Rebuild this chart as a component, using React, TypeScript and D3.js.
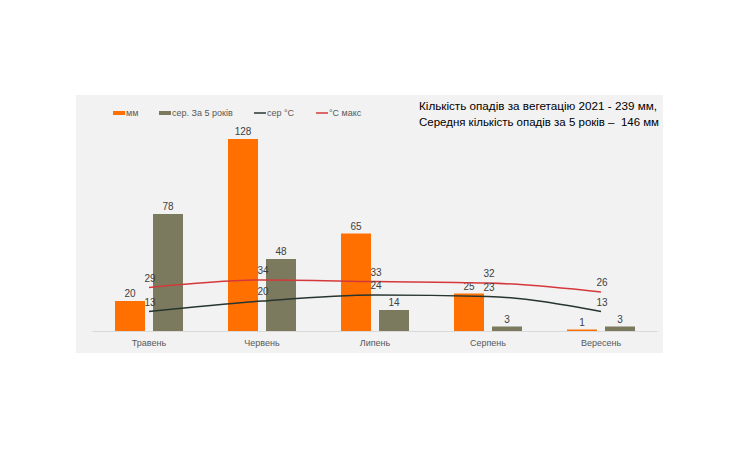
import React from "react";
import * as d3 from "d3";

const categories = ["Травень", "Червень", "Липень", "Серпень", "Вересень"];
const rain2021 = [20, 128, 65, 25, 1];
const rainAvg5 = [78, 48, 14, 3, 3];
const tempAvg = [13, 20, 24, 23, 13];
const tempMax = [29, 34, 33, 32, 26];
const legendLabels = ["мм", "сер. За 5 років", "сер °C", "°C макс"];
const titleLines = [
  "Кількість опадів за вегетацію 2021 - 239 мм,",
  "Середня кількість опадів за 5 років –  146 мм",
];

const W = 739;
const H = 449;
const ORANGE = "#ff7000";
const OLIVE = "#7b7a5e";
const RED = "#d5383b";
const DARK = "#27352f";
const TXT = "#404040";

export default function App() {
  const x = d3.scaleBand().domain(categories).range([92.5, 657.5]);
  const y = d3.scaleLinear().domain([0, 128]).range([331, 139]);
  const cx = (c: string) => (x(c) as number) + x.bandwidth() / 2;
  const barW = 30;
  const off = 19;
  const font = "Liberation Sans, Arial, sans-serif";

  const line = d3
    .line<number>()
    .x((_, i) => cx(categories[i]))
    .y((d) => y(d))
    .curve(d3.curveMonotoneX);

  const legendItems = [
    { x: 113, label: legendLabels[0], color: ORANGE, kind: "bar" },
    { x: 159, label: legendLabels[1], color: OLIVE, kind: "bar" },
    { x: 254, label: legendLabels[2], color: DARK, kind: "line" },
    { x: 316, label: legendLabels[3], color: RED, kind: "line" },
  ];

  return (
    <svg
      width={W}
      height={H}
      style={{ position: "absolute", left: 0, top: 0, background: "#fff" }}
      fontFamily={font}
    >
      <rect x={76} y={95} width={587} height={258} fill="#f2f2f2" />
      <line x1={92.5} x2={657.5} y1={331.5} y2={331.5} stroke="#d9d9d9" strokeWidth={1} />

      {categories.map((c, i) => (
        <g key={c}>
          <rect x={cx(c) - off - barW / 2} y={y(rain2021[i])} width={barW} height={y(0) - y(rain2021[i])} fill={ORANGE} />
          <rect x={cx(c) + off - barW / 2} y={y(rainAvg5[i])} width={barW} height={y(0) - y(rainAvg5[i])} fill={OLIVE} />
          <text x={cx(c) - off} y={y(rain2021[i]) - 4} textAnchor="middle" fontSize={10} fill={TXT}>
            {rain2021[i]}
          </text>
          <text x={cx(c) + off} y={y(rainAvg5[i]) - 4} textAnchor="middle" fontSize={10} fill={TXT}>
            {rainAvg5[i]}
          </text>
          <text x={cx(c)} y={346} textAnchor="middle" fontSize={9} fill="#595959">
            {c}
          </text>
        </g>
      ))}

      <path d={line(tempMax) || ""} fill="none" stroke={RED} strokeWidth={1.5} />
      <path d={line(tempAvg) || ""} fill="none" stroke={DARK} strokeWidth={1.5} />

      {categories.map((c, i) => (
        <g key={"t" + c}>
          <text x={cx(c) + 1} y={y(tempMax[i]) - 6} textAnchor="middle" fontSize={10} fill={TXT}>
            {tempMax[i]}
          </text>
          <text x={cx(c) + 1} y={y(tempAvg[i]) - 6} textAnchor="middle" fontSize={10} fill={TXT}>
            {tempAvg[i]}
          </text>
        </g>
      ))}

      {legendItems.map((it) => (
        <g key={it.label}>
          {it.kind === "bar" ? (
            <rect x={it.x} y={111} width={12} height={4} fill={it.color} />
          ) : (
            <line x1={it.x} x2={it.x + 12} y1={113} y2={113} stroke={it.color} strokeWidth={1.5} />
          )}
          <text x={it.x + 13} y={116} fontSize={9} fill="#595959">
            {it.label}
          </text>
        </g>
      ))}

      {titleLines.map((t, i) => (
        <text
          key={i}
          x={419}
          y={110 + i * 15.5}
          fontSize={11.7}
          fill="#000"
          style={{ whiteSpace: "pre" }}
          textLength={i === 0 ? 238 : 240}
          lengthAdjust="spacingAndGlyphs"
        >
          {t}
        </text>
      ))}
    </svg>
  );
}
